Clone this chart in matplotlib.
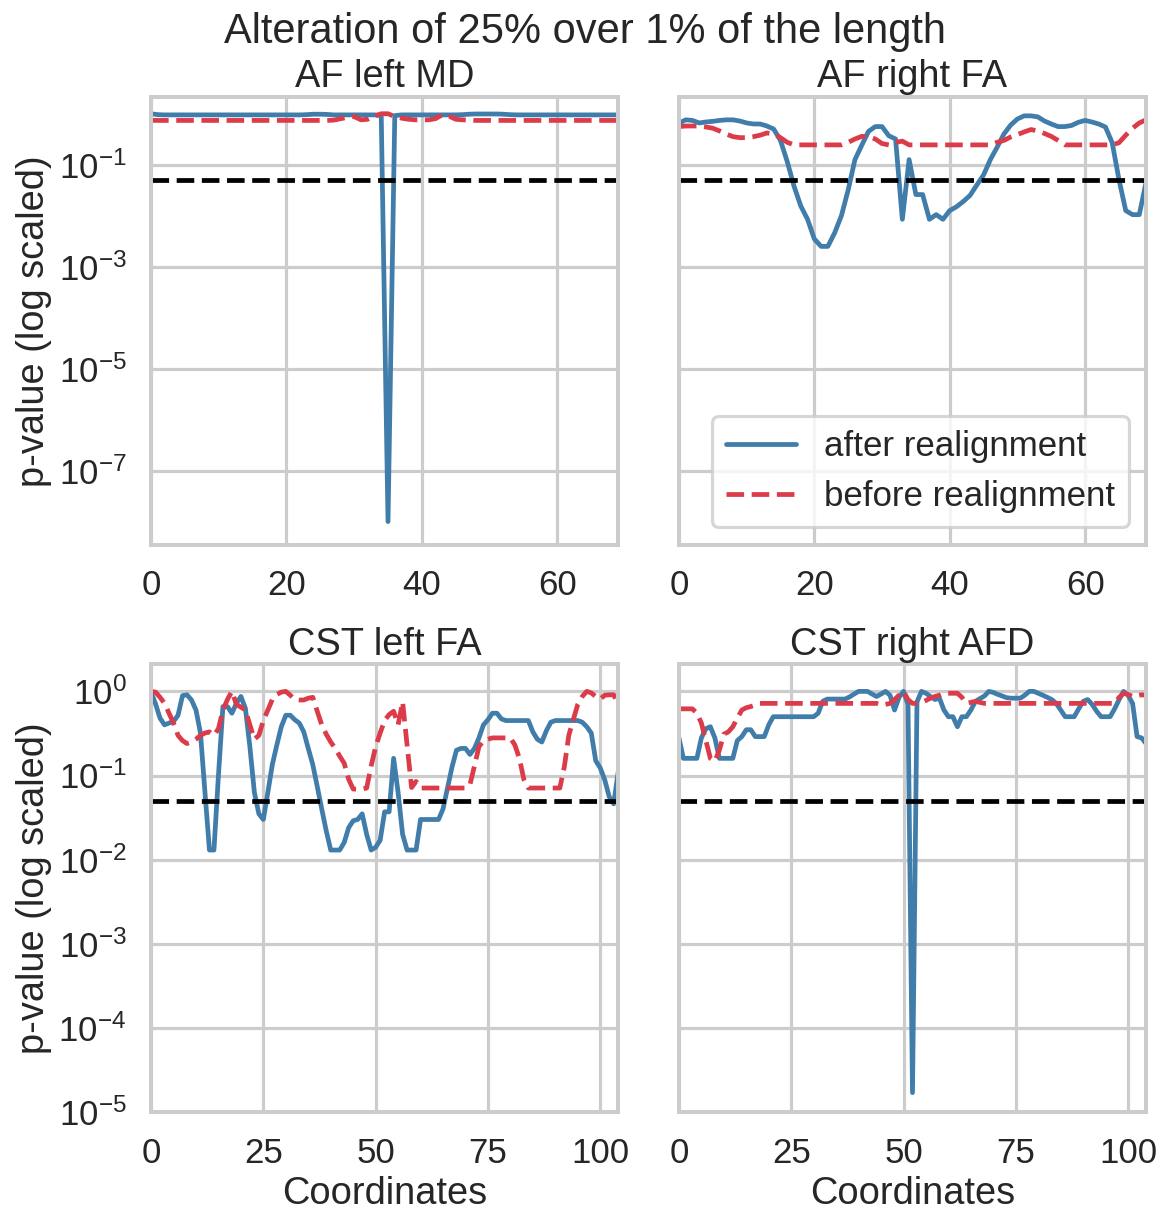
import numpy as np
import matplotlib
matplotlib.use("Agg")
import matplotlib.pyplot as plt
import seaborn as sns

# p-values, one value per coordinate
af_left_md_after = [
    1.0, 0.96, 0.95, 0.95, 0.95, 0.95, 0.95, 0.95, 0.95, 0.95,
    0.95, 0.95, 0.95, 0.95, 0.95, 0.95, 0.95, 0.95, 0.95, 0.95,
    0.95, 0.95, 0.95, 0.96, 0.98, 0.98, 0.97, 0.95, 0.95, 0.95,
    0.95, 0.95, 0.95, 0.95, 0.92, 1e-8, 0.92, 0.95, 0.95, 0.95,
    0.95, 0.95, 0.95, 0.95, 0.95, 0.95, 0.96, 0.98, 0.99, 0.99,
    0.99, 0.99, 0.98, 0.96, 0.95, 0.95, 0.95, 0.95, 0.95, 0.95,
    0.95, 0.95, 0.95, 0.95, 0.95, 0.95, 0.95, 0.95, 0.95, 0.95,
]
af_left_md_before = [
    0.74, 0.74, 0.74, 0.74, 0.74, 0.74, 0.74, 0.74, 0.74, 0.74,
    0.74, 0.74, 0.74, 0.74, 0.74, 0.74, 0.74, 0.74, 0.74, 0.74,
    0.74, 0.74, 0.74, 0.74, 0.74, 0.74, 0.74, 0.75, 0.8, 0.85,
    0.88, 0.76, 0.78, 0.9, 1.0, 1.0, 0.88, 0.82, 0.78, 0.76,
    0.76, 0.76, 0.8, 0.95, 0.9, 0.78, 0.76, 0.75, 0.74, 0.74,
    0.74, 0.74, 0.74, 0.74, 0.74, 0.74, 0.74, 0.74, 0.74, 0.74,
    0.74, 0.74, 0.74, 0.74, 0.74, 0.74, 0.74, 0.74, 0.74, 0.74,
]
af_right_fa_after = [
    0.65, 0.76, 0.74, 0.66, 0.69, 0.71, 0.74, 0.76, 0.76, 0.72,
    0.66, 0.63, 0.63, 0.575, 0.50, 0.30, 0.115, 0.038, 0.0155, 0.0085,
    0.0035, 0.0025, 0.0025, 0.0046, 0.01, 0.032, 0.126, 0.24, 0.45, 0.56,
    0.56, 0.37, 0.32, 0.0085, 0.126, 0.026, 0.026, 0.0085, 0.0105, 0.0085,
    0.0126, 0.015, 0.019, 0.025, 0.04, 0.063, 0.126, 0.22, 0.40, 0.60,
    0.79, 0.91, 0.91, 0.87, 0.72, 0.63, 0.56, 0.56, 0.59, 0.68,
    0.74, 0.69, 0.63, 0.55, 0.27, 0.051, 0.0126, 0.0105, 0.0105, 0.045,
]
af_right_fa_before = [
    0.56, 0.575, 0.575, 0.575, 0.55, 0.52, 0.46, 0.40, 0.355, 0.34,
    0.34, 0.355, 0.38, 0.42, 0.40, 0.34, 0.275, 0.245, 0.245, 0.245,
    0.245, 0.245, 0.245, 0.245, 0.245, 0.275, 0.32, 0.36, 0.355, 0.32,
    0.26, 0.245, 0.275, 0.29, 0.245, 0.245, 0.245, 0.245, 0.245, 0.245,
    0.245, 0.245, 0.245, 0.245, 0.245, 0.245, 0.245, 0.275, 0.30, 0.35,
    0.39, 0.44, 0.49, 0.46, 0.41, 0.36, 0.30, 0.245, 0.245, 0.245,
    0.245, 0.245, 0.245, 0.245, 0.245, 0.27, 0.38, 0.52, 0.66, 0.76,
]
cst_left_fa_after = [
    0.98, 0.71, 0.48, 0.40, 0.42, 0.44, 0.52, 0.89, 0.91, 0.79,
    0.60, 0.32, 0.063, 0.013, 0.013, 0.1, 0.66, 0.66, 0.55, 0.72,
    0.87, 0.63, 0.22, 0.063, 0.035, 0.030, 0.063, 0.135, 0.23, 0.38,
    0.52, 0.52, 0.46, 0.42, 0.33, 0.21, 0.135, 0.074, 0.04, 0.022,
    0.013, 0.013, 0.013, 0.016, 0.024, 0.029, 0.030, 0.035, 0.020, 0.013,
    0.014, 0.017, 0.037, 0.037, 0.16, 0.063, 0.02, 0.013, 0.013, 0.013,
    0.030, 0.030, 0.030, 0.030, 0.030, 0.04, 0.071, 0.126, 0.2, 0.21,
    0.21, 0.178, 0.21, 0.28, 0.40, 0.46, 0.55, 0.55, 0.47, 0.45,
    0.45, 0.45, 0.45, 0.45, 0.45, 0.33, 0.27, 0.25, 0.34, 0.43,
    0.45, 0.45, 0.45, 0.45, 0.45, 0.45, 0.43, 0.38, 0.32, 0.15,
    0.123, 0.089, 0.056, 0.046, 0.11,
]
cst_left_fa_before = [
    1.0, 0.98, 0.85, 0.72, 0.55, 0.42, 0.30, 0.26, 0.24, 0.25,
    0.27, 0.30, 0.32, 0.33, 0.30, 0.36, 0.6, 0.8, 1.0, 0.7,
    0.65, 0.6, 0.4, 0.27, 0.30, 0.45, 0.6, 0.8, 0.92, 0.98,
    1.0, 0.9, 0.8, 0.79, 0.79, 0.83, 0.85, 0.58, 0.40, 0.31,
    0.25, 0.21, 0.17, 0.14, 0.09, 0.069, 0.069, 0.069, 0.071, 0.13,
    0.22, 0.32, 0.45, 0.53, 0.58, 0.4, 0.75, 0.23, 0.072, 0.085,
    0.071, 0.071, 0.071, 0.071, 0.071, 0.071, 0.071, 0.071, 0.071, 0.071,
    0.071, 0.078, 0.13, 0.22, 0.26, 0.27, 0.28, 0.28, 0.28, 0.28,
    0.28, 0.23, 0.16, 0.09, 0.071, 0.071, 0.071, 0.071, 0.071, 0.071,
    0.071, 0.071, 0.126, 0.30, 0.46, 0.7, 0.87, 1.0, 0.96, 0.87,
    0.81, 0.9, 0.91, 0.91, 0.7,
]
cst_right_afd_after = [
    0.28, 0.16, 0.16, 0.16, 0.16, 0.28, 0.36, 0.38, 0.28, 0.16,
    0.16, 0.16, 0.16, 0.26, 0.29, 0.35, 0.35, 0.29, 0.29, 0.29,
    0.4, 0.5, 0.5, 0.5, 0.5, 0.5, 0.5, 0.5, 0.5, 0.5,
    0.5, 0.55, 0.76, 0.81, 0.81, 0.81, 0.81, 0.81, 0.86, 0.93,
    1.0, 1.0, 1.0, 0.93, 0.87, 0.93, 1.0, 0.9, 0.6, 0.85,
    1.0, 0.7, 1.7e-5, 0.75, 1.0, 0.95, 0.87, 0.8, 0.83, 0.6,
    0.5, 0.5, 0.38, 0.5, 0.5, 0.6, 0.76, 0.82, 0.88, 1.0,
    0.97, 0.92, 0.88, 0.84, 0.83, 0.83, 0.83, 0.9, 1.0, 1.0,
    0.95, 0.9, 0.85, 0.8, 0.72, 0.6, 0.5, 0.5, 0.5, 0.62,
    0.76, 0.8, 0.7, 0.58, 0.5, 0.5, 0.5, 0.62, 0.8, 1.0,
    0.9, 0.72, 0.29, 0.28, 0.24,
]
cst_right_afd_before = [
    0.62, 0.62, 0.62, 0.62, 0.55, 0.42, 0.26, 0.16, 0.148, 0.2,
    0.31, 0.33, 0.38, 0.48, 0.6, 0.64, 0.66, 0.69, 0.72, 0.72,
    0.72, 0.72, 0.72, 0.72, 0.72, 0.72, 0.72, 0.72, 0.72, 0.72,
    0.72, 0.72, 0.72, 0.72, 0.72, 0.72, 0.72, 0.72, 0.72, 0.72,
    0.72, 0.72, 0.72, 0.72, 0.72, 0.69, 0.7, 0.72, 0.8, 0.9,
    1.0, 0.8, 0.72, 0.72, 0.74, 0.78, 0.83, 0.87, 0.9, 0.95,
    0.95, 0.95, 0.95, 0.85, 0.72, 0.74, 0.76, 0.74, 0.72, 0.72,
    0.72, 0.72, 0.72, 0.72, 0.72, 0.72, 0.72, 0.72, 0.72, 0.72,
    0.72, 0.72, 0.72, 0.72, 0.72, 0.72, 0.72, 0.72, 0.72, 0.72,
    0.72, 0.72, 0.72, 0.72, 0.72, 0.72, 0.72, 0.72, 0.85, 0.95,
    0.92, 0.87, 0.89, 0.91, 0.9,
]

titles = ["AF left MD", "AF right FA", "CST left FA", "CST right AFD"]
after = [af_left_md_after, af_right_fa_after, cst_left_fa_after, cst_right_afd_after]
before = [af_left_md_before, af_right_fa_before, cst_left_fa_before, cst_right_afd_before]
threshold = 0.05

sns.set_theme(style="whitegrid", context="poster")
plt.rcParams["font.family"] = ["Liberation Sans", "DejaVu Sans"]

blue = "#417dab"
red = "#dc3b4a"

dpi = 114
fig, axes = plt.subplots(2, 2, figsize=(1171 / dpi, 1227 / dpi), dpi=dpi)
fig.subplots_adjust(left=0.129, right=0.9787, top=0.921, bottom=0.0937,
                    wspace=0.13, hspace=0.268)

for i, ax in enumerate(axes.flat):
    y_after = np.array(after[i])
    y_before = np.array(before[i])
    x = np.arange(len(y_after))
    ax.plot(x, y_after, color=blue, lw=3, label="after realignment")
    ax.plot(x, y_before, color=red, lw=3, ls="--", label="before realignment")
    ax.axhline(threshold, color="black", lw=3, ls="--")
    ax.set_yscale("log")
    ax.set_xlim(0, len(x) - 1)
    ax.set_title(titles[i], fontsize=24)
    ax.tick_params(labelsize=22)

for ax in axes[0]:
    ax.set_ylim(10 ** -8.45, 10 ** 0.33)
    ax.set_yticks([1e-1, 1e-3, 1e-5, 1e-7])
    ax.set_xticks([0, 20, 40, 60])
for ax in axes[1]:
    ax.set_ylim(10 ** -5.0, 10 ** 0.32)
    ax.set_yticks([1e0, 1e-1, 1e-2, 1e-3, 1e-4, 1e-5])
    ax.set_xticks([0, 25, 50, 75, 100])
    ax.set_xlabel("Coordinates", fontsize=24)
for ax in axes[:, 1]:
    ax.tick_params(labelleft=False)
for ax in axes[:, 0]:
    ax.set_ylabel("p-value (log scaled)", fontsize=24)
for ax in axes.flat:
    ax.minorticks_off()

axes[0, 1].legend(loc="lower right", fontsize=22)
fig.suptitle("Alteration of 25% over 1% of the length", fontsize=26.3, y=0.974, va="center")

plt.savefig("out.png", dpi=dpi)
